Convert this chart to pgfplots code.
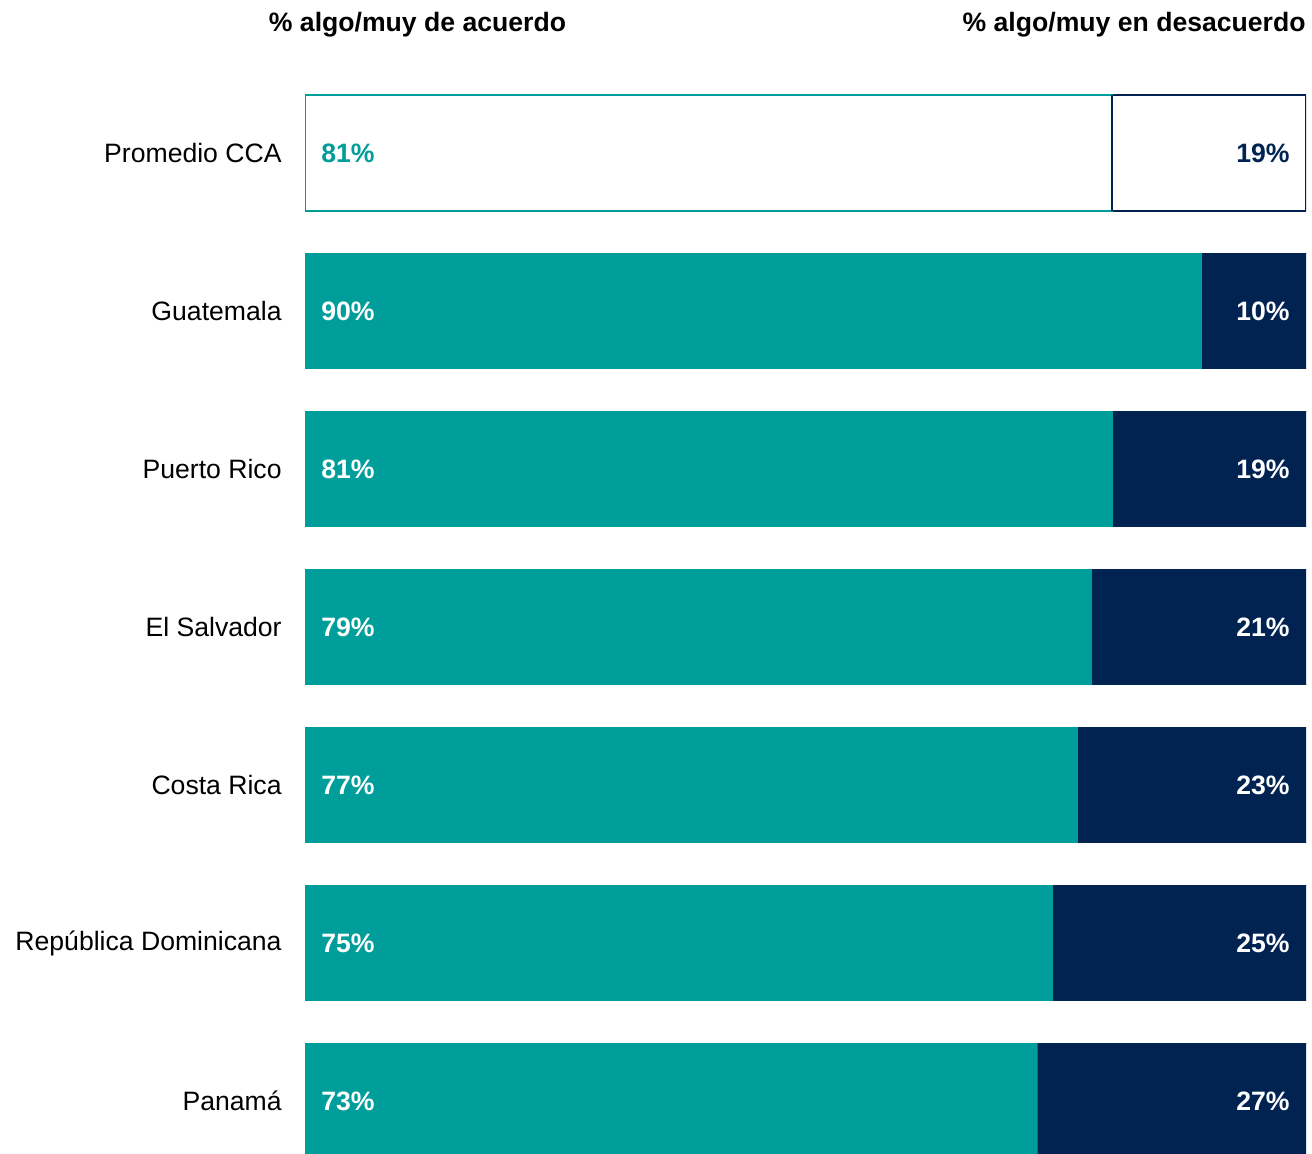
\documentclass[border=0pt]{standalone}
\usepackage{pgfplots}
\pgfplotsset{compat=1.18}
\usepackage{fontspec}
\setmainfont{Liberation Sans}
\definecolor{tealc}{RGB}{0,158,155}
\definecolor{navyc}{RGB}{0,35,82}
\newcommand{\lblfont}{\fontsize{13.3}{15}\selectfont}
\begin{document}
\begin{tikzpicture}
\begin{axis}[
  scale only axis,
  width=500.5pt, height=577pt,
  xmin=0, xmax=100,
  ymin=-0.9684, ymax=6.3354,
  y dir=reverse,
  axis line style={draw=none},
  tick style={draw=none},
  major tick length=0pt,
  xtick=\empty,
  ytick={0,1,2,3,4,5,6},
  yticklabels={Promedio CCA, Guatemala, Puerto Rico, El Salvador, Costa Rica, República Dominicana, Panamá},
  yticklabel style={font=\lblfont, inner sep=0pt, anchor=east, xshift=-11.5pt},
  bar width=0.734,
  clip=true,
]
% countries: disagree background to 100
\addplot[xbar, bar shift=0pt, fill=navyc, draw=none] coordinates {(100,1) (100,2) (100,3) (100,4) (100,5) (100,6)};
% countries: agree
\addplot[xbar, bar shift=0pt, fill=tealc, draw=none] coordinates {(89.6,1) (80.7,2) (78.6,3) (77.2,4) (74.7,5) (73.2,6)};
% Promedio CCA
\addplot[xbar, bar shift=0pt, fill=white, draw=navyc, line width=1.1pt] coordinates {(100,0)};
\addplot[xbar, bar shift=0pt, fill=white, draw=tealc, line width=1.1pt] coordinates {(80.6,0)};
\addplot[navyc, line width=1.1pt, mark=none] coordinates {(80.6,-0.367) (80.6,0.367)};
% labels: agree
\addplot[draw=none, mark=none, nodes near coords, point meta=explicit symbolic,
  nodes near coords style={anchor=west, xshift=8pt, inner sep=0pt, text=white, font=\lblfont\bfseries}]
  table[meta=l] {
x y l
0 1 90\%
0 2 81\%
0 3 79\%
0 4 77\%
0 5 75\%
0 6 73\%
};
\addplot[draw=none, mark=none, nodes near coords, point meta=explicit symbolic,
  nodes near coords style={anchor=west, xshift=8pt, inner sep=0pt, text=tealc, font=\lblfont\bfseries}]
  table[meta=l] {
x y l
0 0 81\%
};
% labels: disagree
\addplot[draw=none, mark=none, nodes near coords, point meta=explicit symbolic,
  nodes near coords style={anchor=east, xshift=-8pt, inner sep=0pt, text=white, font=\lblfont\bfseries}]
  table[meta=l] {
x y l
100 1 10\%
100 2 19\%
100 3 21\%
100 4 23\%
100 5 25\%
100 6 27\%
};
\addplot[draw=none, mark=none, nodes near coords, point meta=explicit symbolic,
  nodes near coords style={anchor=east, xshift=-8pt, inner sep=0pt, text=navyc, font=\lblfont\bfseries}]
  table[meta=l] {
x y l
100 0 19\%
};
\coordinate (tl) at (axis cs:11.24,-0.81);
\coordinate (tr) at (axis cs:100,-0.81);
\coordinate (bbA) at (rel axis cs:-0.3047,0);
\coordinate (bbB) at (rel axis cs:1.006,1);
\end{axis}
\node[font=\lblfont\bfseries, inner sep=0pt] at (tl) {\% algo/muy de acuerdo};
\node[font=\lblfont\bfseries, inner sep=0pt, anchor=east] at (tr) {\% algo/muy en desacuerdo};
\path (bbA) rectangle (bbB);
\end{tikzpicture}
\end{document}
